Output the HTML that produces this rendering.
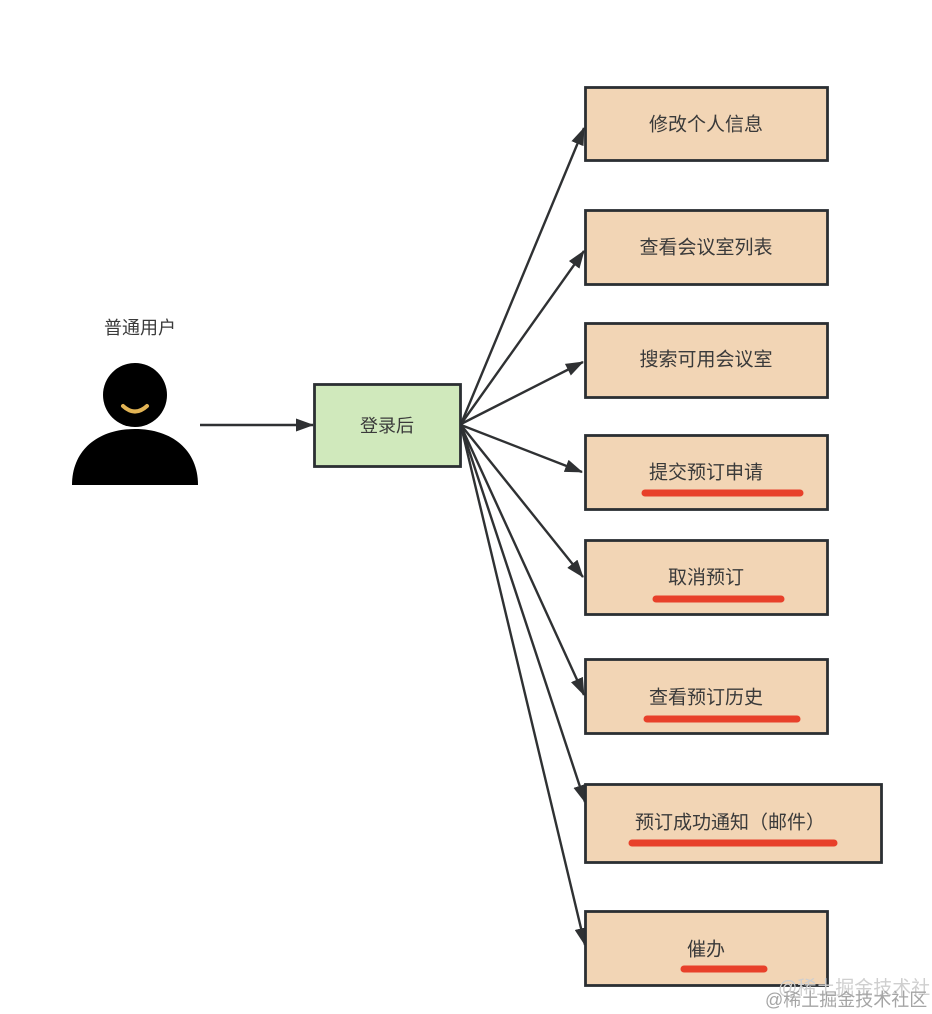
<!DOCTYPE html>
<html>
<head>
<meta charset="utf-8">
<style>
  html, body { margin:0; padding:0; background:#ffffff; }
  body { width:932px; height:1014px; overflow:hidden; }
  svg { display:block; }
  text { font-family: "Liberation Sans", "Noto Sans CJK SC", sans-serif; }
</style>
</head>
<body>
<svg width="932" height="1014" viewBox="0 0 932 1014" xmlns="http://www.w3.org/2000/svg">
  <defs>
    <marker id="ah" viewBox="0 0 18 13" refX="17" refY="6.5" markerWidth="18" markerHeight="13" markerUnits="userSpaceOnUse" orient="auto">
      <path d="M0,0 L18,6.5 L0,13 Z" fill="#2f3133"/>
    </marker>
  </defs>

  <!-- person label -->
  <text x="140" y="328" font-size="18" fill="#3a3a3a" text-anchor="middle" dominant-baseline="central">普通用户</text>

  <!-- person icon -->
  <circle cx="135" cy="395" r="32" fill="#000"/>
  <path d="M123,406 Q135,417 147,406" fill="none" stroke="#e2b455" stroke-width="4" stroke-linecap="round"/>
  <path d="M72,485 C72,450 98,429 135,429 C172,429 198,450 198,485 Z" fill="#000"/>

  <!-- arrow person -> login -->
  <line x1="200" y1="425" x2="313" y2="425" stroke="#2f3133" stroke-width="2.4" marker-end="url(#ah)"/>

  <!-- fan arrows -->
  <g stroke="#2f3133" stroke-width="2.4" fill="none">
    <line x1="461" y1="424" x2="584" y2="128" marker-end="url(#ah)"/>
    <line x1="461" y1="424" x2="584" y2="251" marker-end="url(#ah)"/>
    <line x1="461" y1="424" x2="583" y2="362" marker-end="url(#ah)"/>
    <line x1="461" y1="425" x2="582" y2="472" marker-end="url(#ah)"/>
    <line x1="461" y1="425" x2="583" y2="577" marker-end="url(#ah)"/>
    <line x1="461" y1="426" x2="584" y2="695" marker-end="url(#ah)"/>
    <line x1="461" y1="426" x2="585" y2="802" marker-end="url(#ah)"/>
    <line x1="461" y1="426" x2="585" y2="945" marker-end="url(#ah)"/>
  </g>

  <!-- login box -->
  <rect x="314.5" y="384.5" width="146" height="82" fill="#d0e9bc" stroke="#2b2f33" stroke-width="2.8"/>
  <text x="387" y="426" font-size="18" fill="#3a3a3a" text-anchor="middle" dominant-baseline="central">登录后</text>

  <!-- right boxes -->
  <g fill="#f2d5b5" stroke="#2b2f33" stroke-width="2.8">
    <rect x="585.5" y="87.5" width="242" height="73"/>
    <rect x="585.5" y="210.5" width="242" height="74"/>
    <rect x="585.5" y="323.5" width="242" height="74"/>
    <rect x="585.5" y="435.5" width="242" height="74"/>
    <rect x="585.5" y="540.5" width="242" height="74"/>
    <rect x="585.5" y="659.5" width="242" height="74"/>
    <rect x="585.5" y="784.5" width="296" height="78"/>
    <rect x="585.5" y="911.5" width="242" height="74"/>
  </g>

  <!-- red underlines -->
  <g stroke="#e8402a" stroke-width="7" stroke-linecap="round">
    <line x1="645" y1="493" x2="800" y2="493"/>
    <line x1="656" y1="599" x2="781" y2="599"/>
    <line x1="647" y1="719" x2="797" y2="719"/>
    <line x1="632" y1="843" x2="834" y2="843"/>
    <line x1="684" y1="969" x2="764" y2="969"/>
  </g>

  <!-- box labels -->
  <g font-size="19" fill="#3a3a3a" text-anchor="middle" dominant-baseline="central">
    <text x="706" y="125">修改个人信息</text>
    <text x="706" y="248">查看会议室列表</text>
    <text x="706" y="360">搜索可用会议室</text>
    <text x="706" y="473">提交预订申请</text>
    <text x="706" y="578">取消预订</text>
    <text x="706" y="698">查看预订历史</text>
    <text x="730" y="823">预订成功通知（邮件）</text>
    <text x="706" y="950">催办</text>
  </g>

  <!-- watermark -->
  <text x="778" y="994" font-size="19" fill="#cfcfcf">@稀土掘金技术社</text>
  <text x="765" y="1006" font-size="18" fill="#a5a5a5">@稀土掘金技术社区</text>
</svg>
</body>
</html>
